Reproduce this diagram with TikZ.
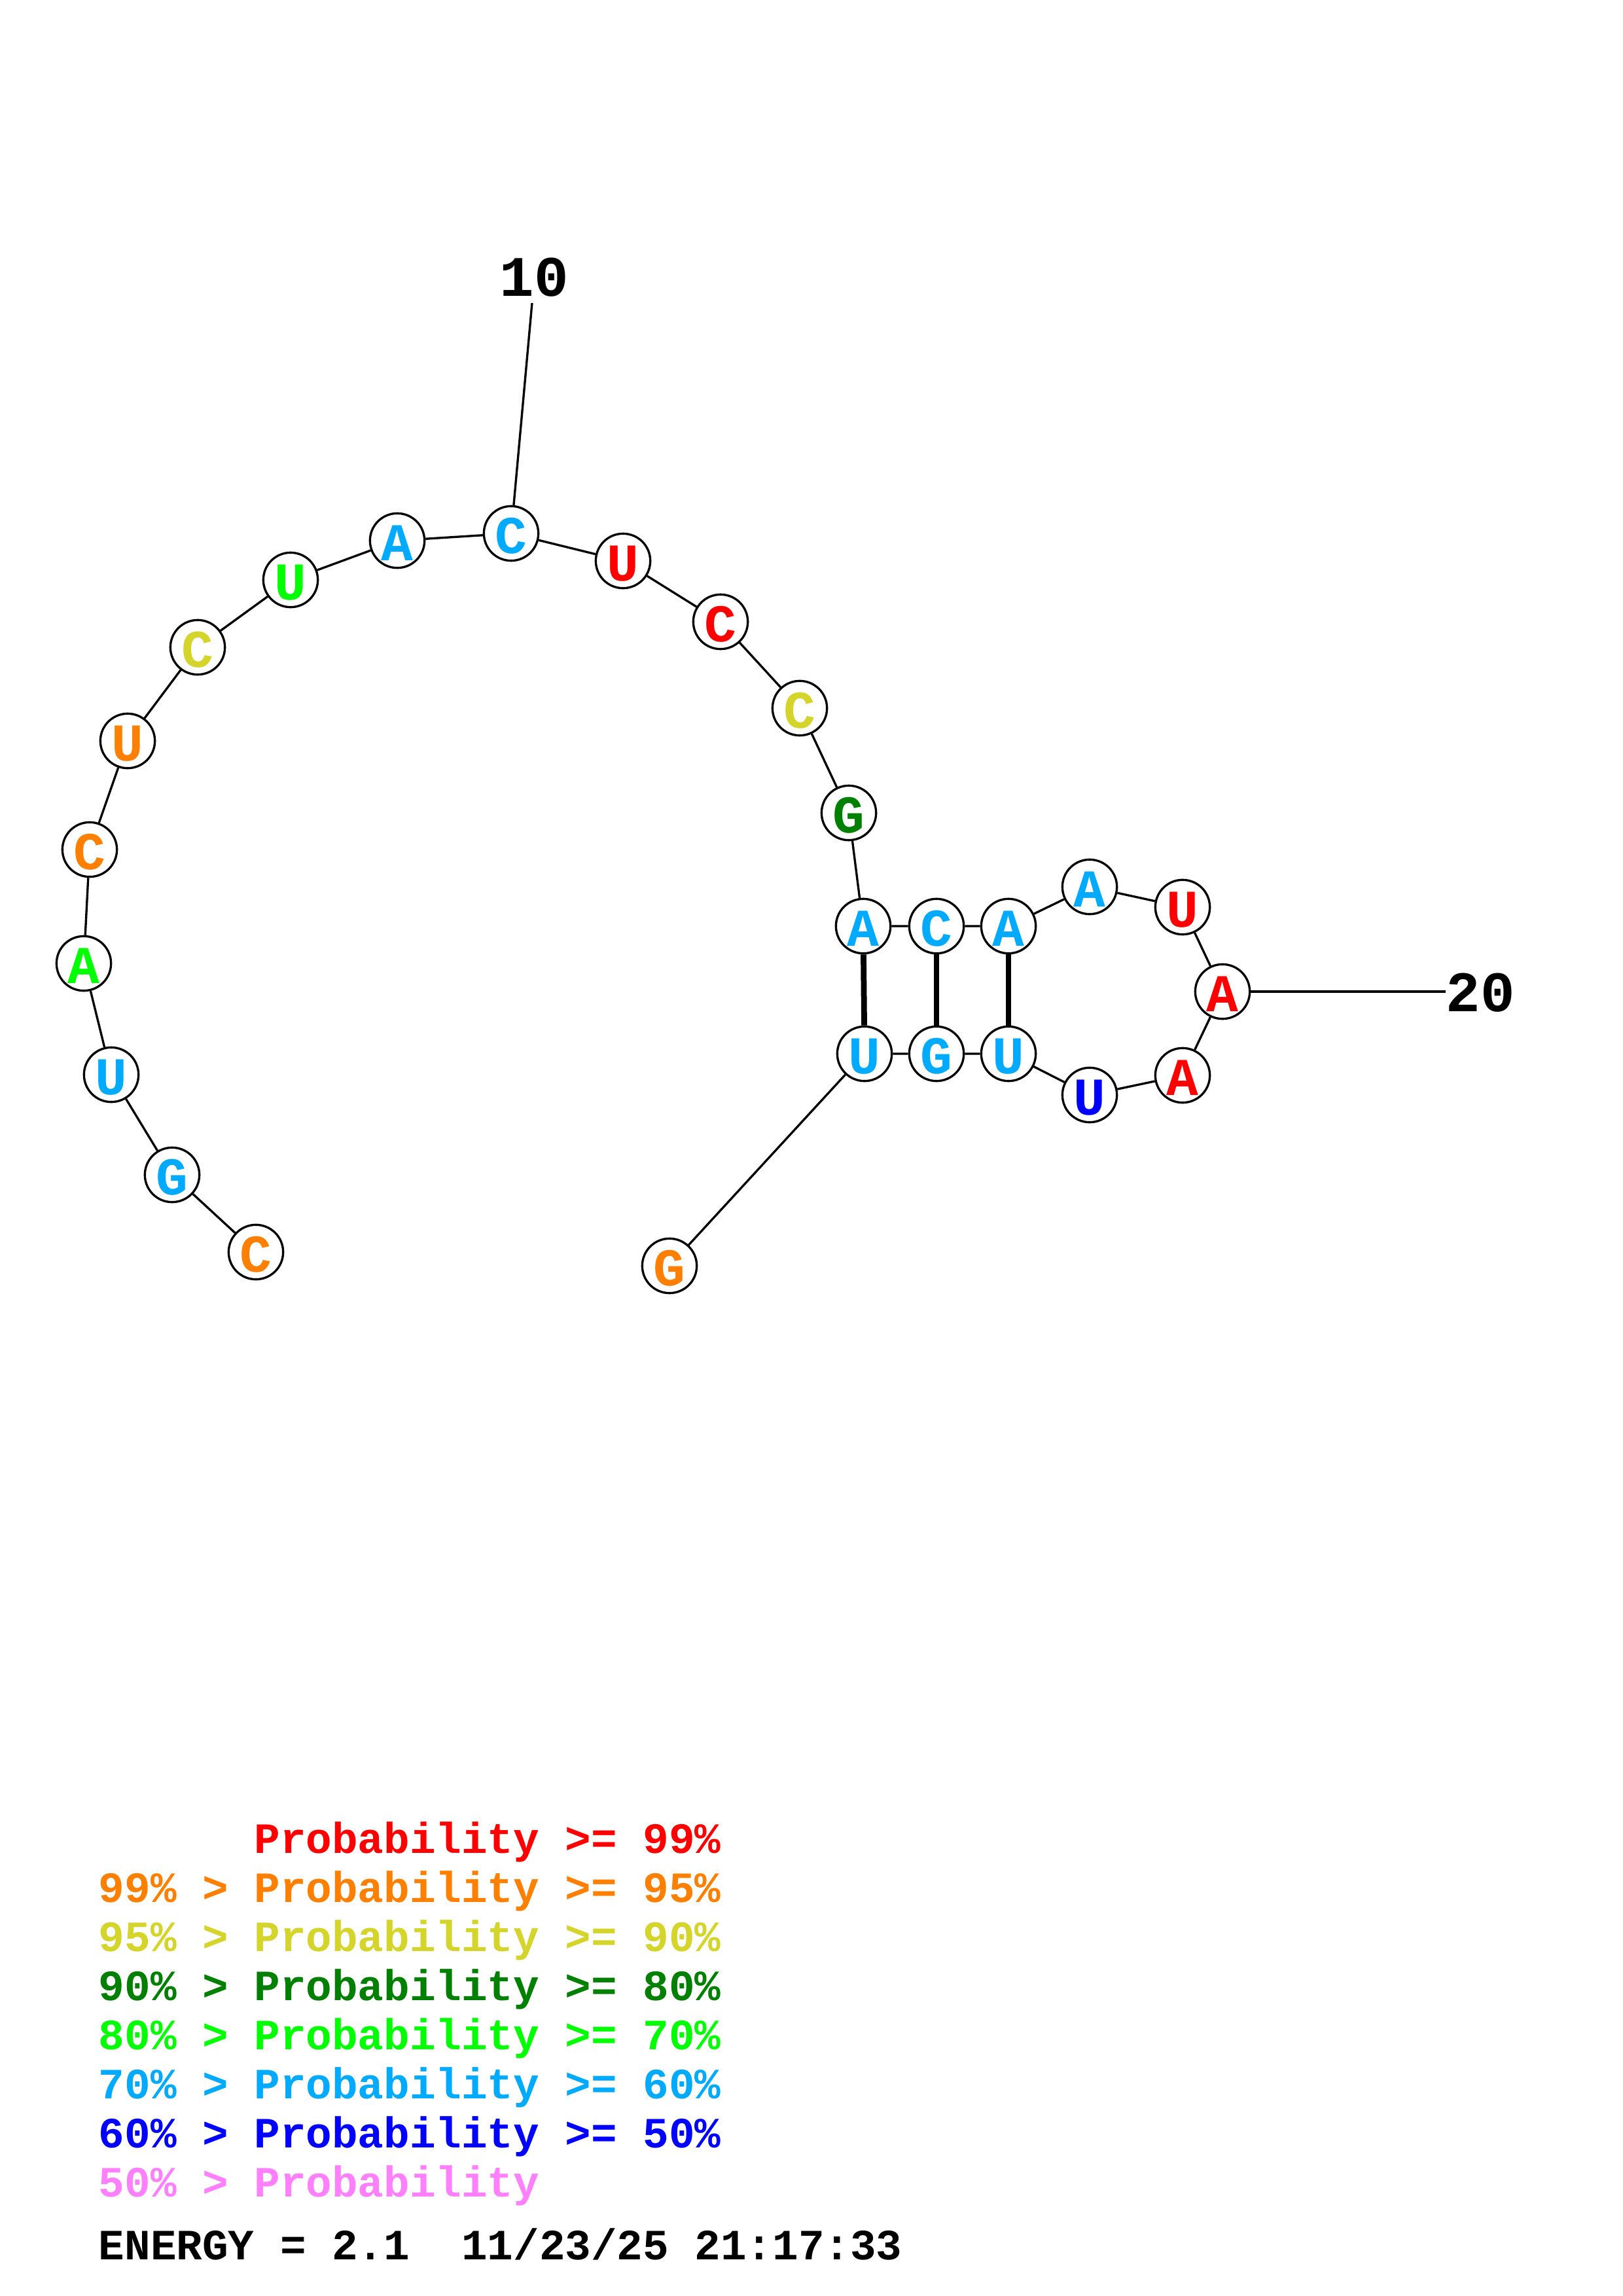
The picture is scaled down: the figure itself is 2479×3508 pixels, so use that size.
\documentclass[tikz,border=0pt]{standalone}
\usepackage{fontspec}
\newfontfamily\lmono{Liberation Mono}
\definecolor{pRed}{RGB}{255,0,0}
\definecolor{pOrange}{RGB}{255,128,0}
\definecolor{pYellow}{RGB}{212,212,42}
\definecolor{pDkGreen}{RGB}{0,128,0}
\definecolor{pGreen}{RGB}{0,255,0}
\definecolor{pLtBlue}{RGB}{0,170,255}
\definecolor{pBlue}{RGB}{0,0,255}
\definecolor{pPink}{RGB}{255,128,255}
\tikzset{
  base/.style={circle, draw=black, line width=0.8pt, fill=white, minimum size=20pt, inner sep=0pt,
    text height=14.8pt, text depth=0pt,
    font=\lmono\bfseries\fontsize{19.5}{19.5}\selectfont},
  bb/.style={line width=0.8pt},
  pairline/.style={line width=2.1pt},
  numlab/.style={inner sep=0pt, font=\lmono\bfseries\fontsize{21}{21}\selectfont},
  leg/.style={anchor=base west, inner sep=0pt, font=\lmono\bfseries\fontsize{15.84}{15.84}\selectfont}
}
\begin{document}
\begin{tikzpicture}[x=0.24pt,y=-0.24pt]
\useasboundingbox (0,0) rectangle (2479,3508);
\fill[white] (0,0) rectangle (2479,3508);
% nucleotides
\node[base,text=pOrange]  (n1)  at (391,1913) {C};
\node[base,text=pLtBlue]  (n2)  at (263,1795) {G};
\node[base,text=pLtBlue]  (n3)  at (170,1642) {U};
\node[base,text=pGreen]   (n4)  at (128,1472) {A};
\node[base,text=pOrange]  (n5)  at (137,1298) {C};
\node[base,text=pOrange]  (n6)  at (195,1132) {U};
\node[base,text=pYellow]  (n7)  at (302,989)  {C};
\node[base,text=pGreen]   (n8)  at (444,886)  {U};
\node[base,text=pLtBlue]  (n9)  at (607,826)  {A};
\node[base,text=pLtBlue]  (n10) at (781,815)  {C};
\node[base,text=pRed]     (n11) at (952,857)  {U};
\node[base,text=pRed]     (n12) at (1101,950) {C};
\node[base,text=pYellow]  (n13) at (1222,1082) {C};
\node[base,text=pDkGreen] (n14) at (1297,1242) {G};
\node[base,text=pLtBlue]  (n15) at (1319,1415) {A};
\node[base,text=pLtBlue]  (n16) at (1431,1415) {C};
\node[base,text=pLtBlue]  (n17) at (1541,1415) {A};
\node[base,text=pLtBlue]  (n18) at (1665,1355) {A};
\node[base,text=pRed]     (n19) at (1807,1386) {U};
\node[base,text=pRed]     (n20) at (1868,1515) {A};
\node[base,text=pRed]     (n21) at (1807,1643) {A};
\node[base,text=pBlue]    (n22) at (1665,1673) {U};
\node[base,text=pLtBlue]  (n23) at (1541,1610) {U};
\node[base,text=pLtBlue]  (n24) at (1431,1610) {G};
\node[base,text=pLtBlue]  (n25) at (1321,1610) {U};
\node[base,text=pOrange]  (n26) at (1023,1934) {G};
% backbone
\draw[bb] (n1)--(n2)--(n3)--(n4)--(n5)--(n6)--(n7)--(n8)--(n9)--(n10)--(n11)--(n12)--(n13)
  --(n14)--(n15)--(n16)--(n17)--(n18)--(n19)--(n20)--(n21)--(n22)--(n23)--(n24)--(n25)--(n26);
% base pairs
\draw[pairline] (n15)--(n25);
\draw[pairline] (n16)--(n24);
\draw[pairline] (n17)--(n23);
% position labels
\coordinate (t10) at (813,463);
\draw[bb] (n10)--(t10);
\node[numlab] (l10) at (816,424) {10};
\coordinate (t20) at (2209,1515);
\draw[bb] (n20)--(t20);
\node[numlab, anchor=west] (l20) at (2209,1517) {20};
% legend
\node[leg, text=pRed]     (g1) at (150,2831) {\hphantom{99\% >} Probability >= 99\%};
\node[leg, text=pOrange]  (g2) at (150,2906) {99\% > Probability >= 95\%};
\node[leg, text=pYellow]  (g3) at (150,2981) {95\% > Probability >= 90\%};
\node[leg, text=pDkGreen] (g4) at (150,3056) {90\% > Probability >= 80\%};
\node[leg, text=pGreen]   (g5) at (150,3131) {80\% > Probability >= 70\%};
\node[leg, text=pLtBlue]  (g6) at (150,3206) {70\% > Probability >= 60\%};
\node[leg, text=pBlue]    (g7) at (150,3281) {60\% > Probability >= 50\%};
\node[leg, text=pPink]    (g8) at (150,3356) {50\% > Probability};
\node[leg, text=black]    (g9) at (150,3452) {ENERGY = 2.1~ 11/23/25 21:17:33};
\end{tikzpicture}
\end{document}
